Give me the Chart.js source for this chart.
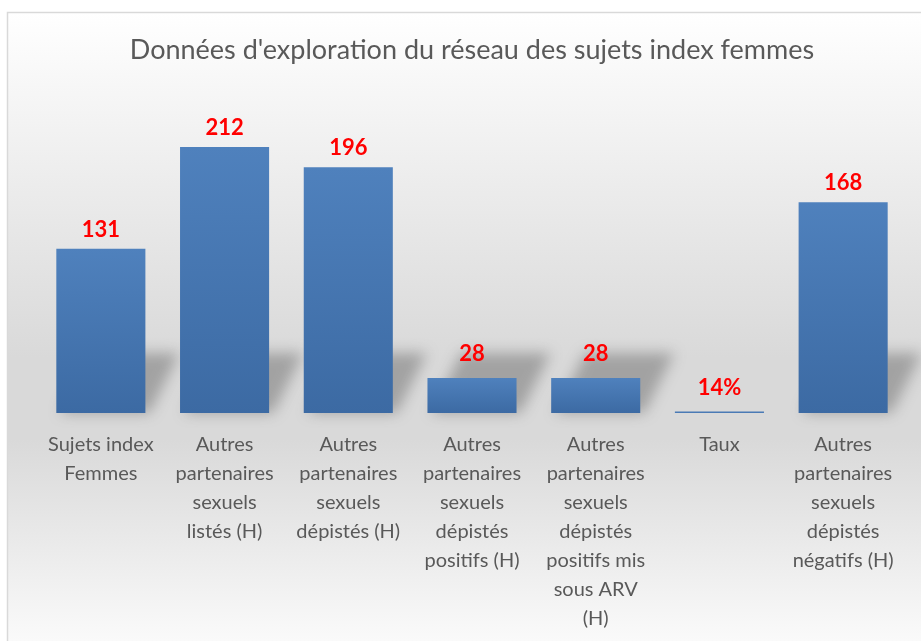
<!DOCTYPE html>
<html>
<head>
<meta charset="utf-8">
<script src="https://cdn.jsdelivr.net/npm/chart.js@4.4.0/dist/chart.umd.min.js"></script>
<style>
  html, body { margin: 0; padding: 0; background: #fff; }
  #wrap { width: 921px; height: 641px; }
</style>
</head>
<body>
<div id="wrap"><canvas id="myChart" width="921" height="641"></canvas></div>
<script>
// catégories (libellés sur plusieurs lignes comme dans Excel)
const categories = [
  ['Sujets index', 'Femmes'],
  ['Autres', 'partenaires', 'sexuels', 'listés (H)'],
  ['Autres', 'partenaires', 'sexuels', 'dépistés (H)'],
  ['Autres', 'partenaires', 'sexuels', 'dépistés', 'positifs (H)'],
  ['Autres', 'partenaires', 'sexuels', 'dépistés', 'positifs mis', 'sous ARV', '(H)'],
  ['Taux'],
  ['Autres', 'partenaires', 'sexuels', 'dépistés', 'négatifs (H)']
];
// valeurs (Taux = 0,14 -> affiché en %)
const values = [131, 212, 196, 28, 28, 0.14, 168];
const labelTexts = ['131', '212', '196', '28', '28', '14%', '168'];

const titleText = "Données d'exploration du réseau des sujets index femmes";
const fontFamily = 'Lato, "Open Sans", sans-serif';

// fond dégradé + cadre
const fondPlugin = {
  id: 'fond',
  beforeDraw(chart) {
    const c = chart.ctx;
    c.save();
    c.fillStyle = '#ffffff';
    c.fillRect(0, 0, chart.width, chart.height);
    const g = c.createLinearGradient(0, 12, 0, chart.height);
    g.addColorStop(0, '#ffffff');
    g.addColorStop(0.55, '#d9d9d9');
    g.addColorStop(0.68, '#d9d9d9');
    g.addColorStop(1, '#fafafa');
    c.fillStyle = g;
    c.fillRect(7, 12, chart.width - 7, chart.height - 12);
    c.strokeStyle = '#d9d9d9';
    c.lineWidth = 1.5;
    c.beginPath();
    c.moveTo(7.5, chart.height);
    c.lineTo(7.5, 12.5);
    c.lineTo(chart.width, 12.5);
    c.stroke();
    c.restore();
  },
  // ombres en perspective derrière les barres
  beforeDatasetsDraw(chart) {
    const c = chart.ctx;
    const meta = chart.getDatasetMeta(0);
    c.save();
    c.filter = 'blur(7px)';
    c.fillStyle = 'rgba(80,80,80,0.4)';
    meta.data.forEach((bar, i) => {
      if (values[i] < 1) return;
      const half = bar.width / 2;
      const x0 = bar.x - half, x1 = bar.x + half;
      const h = 60;
      c.beginPath();
      c.moveTo(x0 + 4, bar.base);
      c.lineTo(x1 + 4, bar.base);
      c.lineTo(x1 + 34, bar.base - h);
      c.lineTo(x0 + 34, bar.base - h);
      c.closePath();
      c.fill();
    });
    c.restore();
  },
  // étiquettes de données en rouge
  afterDatasetsDraw(chart) {
    const c = chart.ctx;
    const meta = chart.getDatasetMeta(0);
    c.save();
    c.fillStyle = '#ff0000';
    c.font = 'bold 22px ' + fontFamily;
    c.textAlign = 'center';
    c.textBaseline = 'bottom';
    meta.data.forEach((bar, i) => {
      // un peu plus haut pour les petites barres, comme dans l'original
      const gap = values[i] < 50 ? 13 : 8;
      c.fillText(labelTexts[i], bar.x, bar.y - gap);
    });
    c.restore();
  }
};

const ctx = document.getElementById('myChart').getContext('2d');
const myChart = new Chart(ctx, {
  type: 'bar',
  data: {
    labels: categories,
    datasets: [{
      data: values,
      backgroundColor: (context) => {
        const chart = context.chart;
        const yScale = chart.scales.y;
        if (!yScale || context.raw === undefined) return '#4a7ab5';
        const top = yScale.getPixelForValue(context.raw);
        const bottom = yScale.getPixelForValue(0);
        if (!isFinite(top) || bottom - top < 2) return '#4a7ab5';
        const g = chart.ctx.createLinearGradient(0, top, 0, bottom);
        g.addColorStop(0, '#4f81bd');
        g.addColorStop(1, '#3c6aa3');
        return g;
      },
      borderWidth: 0,
      barPercentage: 0.72,
      categoryPercentage: 1,
      minBarLength: 1.5
    }]
  },
  plugins: [fondPlugin],
  options: {
    responsive: false,
    animation: false,
    layout: { padding: { left: 39, right: 16, top: 22, bottom: 0 } },
    plugins: {
      legend: { display: false },
      tooltip: { enabled: false },
      title: {
        display: true,
        text: titleText,
        color: '#595959',
        font: { family: fontFamily, size: 27, weight: 'normal' },
        padding: { top: 12, bottom: 33 }
      }
    },
    scales: {
      x: {
        grid: { display: false },
        border: { display: false },
        ticks: {
          color: '#595959',
          font: { family: fontFamily, size: 20, lineHeight: 1.45 },
          maxRotation: 0,
          autoSkip: false,
          padding: 9
        },
        afterFit(scale) { scale.height = 228; }
      },
      y: {
        display: false,
        min: 0,
        max: 250
      }
    }
  }
});
</script>
</body>
</html>
